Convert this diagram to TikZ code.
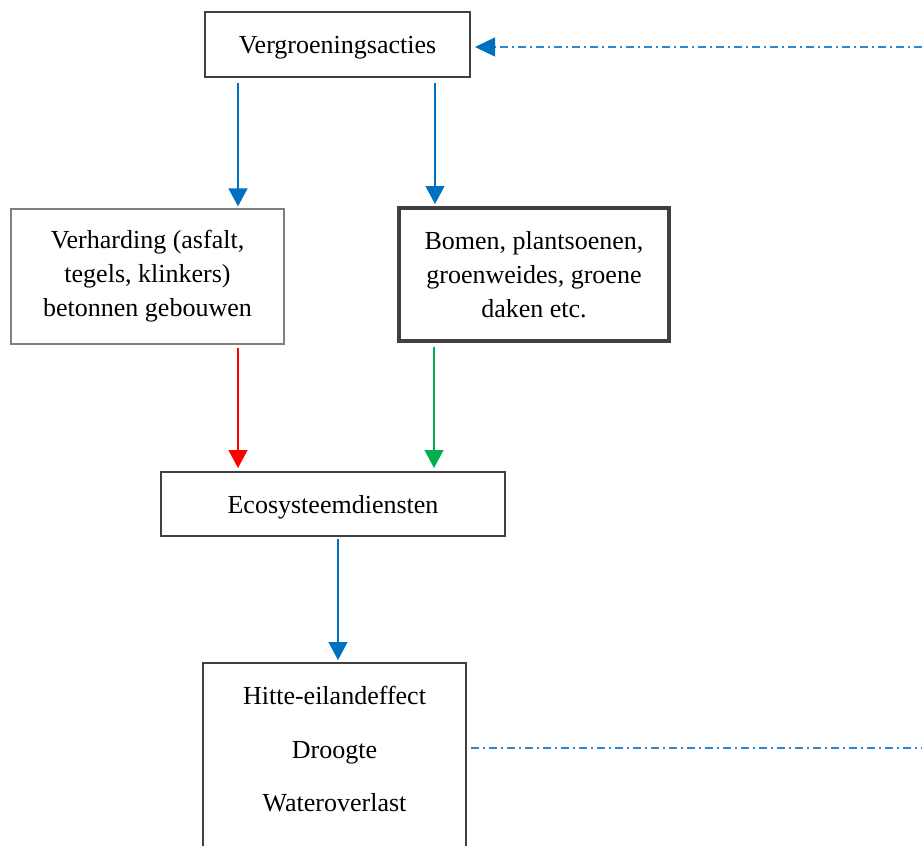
\documentclass[tikz,border=0pt]{standalone}
\usepackage{fontspec}
\setmainfont{Liberation Serif}
\usetikzlibrary{arrows.meta}
\definecolor{ablue}{HTML}{0070C0}
\definecolor{lblue}{HTML}{2F86D0}
\definecolor{ared}{HTML}{FF0000}
\definecolor{agreen}{HTML}{00B050}
\definecolor{bdark}{HTML}{404040}
\definecolor{bgray}{HTML}{7F7F7F}
\tikzset{
  box/.style={draw=bdark, line width=2pt, inner sep=0pt, align=center,
    font=\fontsize{26}{34}\selectfont},
  onebox/.style={box, text height=20pt, text depth=2pt},
  lightbox/.style={box, draw=bgray, line width=1.3pt},
  thickbox/.style={box, line width=4pt},
  conn/.style={line width=1.3pt, -{Triangle[width=19pt,length=18pt]}},
  dashdot/.style={color=lblue, line width=1.1pt, dash pattern=on 8pt off 4pt on 2pt off 4pt}
}
\begin{document}
\begin{tikzpicture}[x=1pt,y=-1pt]
\useasboundingbox (0,0) rectangle (922,846);
\node[onebox, minimum width=265pt, minimum height=65pt] (verg) at (337.5,44.5) {Vergroeningsacties};
\node[lightbox, minimum width=273pt, minimum height=135pt] (verh) at (147.5,276.5)
  {Verharding (asfalt,\\tegels, klinkers)\\betonnen gebouwen};
\node[thickbox, minimum width=270pt, minimum height=133pt] (bomen) at (534,274.5)
  {Bomen, plantsoenen,\\groenweides, groene\\daken etc.};
\node[onebox, minimum width=344pt, minimum height=64pt] (eco) at (333,504) {Ecosysteemdiensten};
\node[box, minimum width=263pt, minimum height=200pt, anchor=north] (hitte) at (334.5,662) {};
\node[align=center, inner sep=0pt, font=\fontsize{26}{53.5}\selectfont] (hittetext) at (334.5,749.5)
  {Hitte-eilandeffect\\Droogte\\Wateroverlast};
% connectors
\draw[conn, draw=ablue, fill=ablue, shorten <=5pt, shorten >=2pt]
  ([xshift=-99.5pt]verg.south) -- ([xshift=-99.5pt]verg.south |- verh.north);
\draw[conn, draw=ablue, fill=ablue, shorten <=5pt, shorten >=2pt]
  ([xshift=97.5pt]verg.south) -- ([xshift=97.5pt]verg.south |- bomen.north);
\draw[conn, draw=ared, fill=ared, shorten <=3pt, shorten >=3pt]
  ([xshift=90.5pt]verh.south) -- ([xshift=90.5pt]verh.south |- eco.north);
\draw[conn, draw=agreen, fill=agreen, shorten <=4pt, shorten >=3pt]
  ([xshift=-100pt]bomen.south) -- ([xshift=-100pt]bomen.south |- eco.north);
\draw[conn, draw=ablue, fill=ablue, shorten <=2pt, shorten >=2pt]
  ([xshift=5pt]eco.south) -- ([xshift=5pt]eco.south |- hitte.north);
% feedback dash-dot lines
\coordinate (rt) at (922,47);
\coordinate (rb) at (922,748);
\draw[dashdot, -{Triangle[width=19pt,length=20pt,color=ablue,fill=ablue]}, shorten >=4pt] (rt) -- (rt -| verg.east);
\draw[dashdot, shorten <=4pt] (rb -| hitte.east) -- (rb);
\end{tikzpicture}
\end{document}
